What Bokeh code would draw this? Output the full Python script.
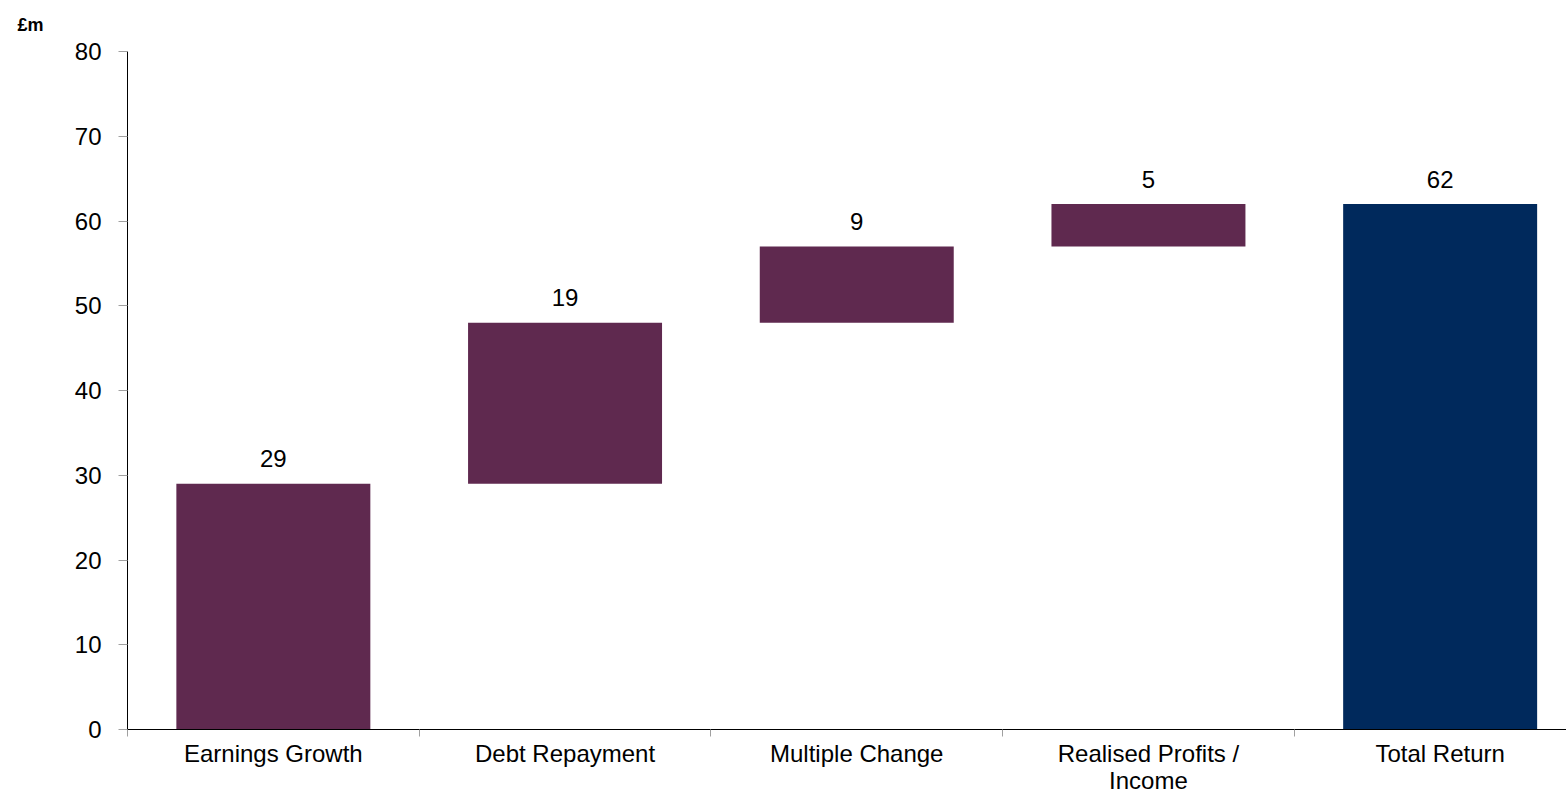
from bokeh.plotting import figure
from bokeh.models import Range1d, FixedTicker, ColumnDataSource
from bokeh.core.properties import value
from bokeh.embed import file_html
from bokeh.resources import INLINE

categories = ["Earnings Growth", "Debt Repayment", "Multiple Change", "Realised Profits /\nIncome", "Total Return"]
values = [29, 19, 9, 5, 62]
is_total = [False, False, False, False, True]
y_ticks = [0, 10, 20, 30, 40, 50, 60, 70, 80]
unit_label = "£m"

PURPLE = "#5F294F"
NAVY = "#00295C"
FONT = "Liberation Sans"

W, H = 1566, 796
left, top_b, bottom_b = 127, 51, 67
cat_px = 291.7
x_end = (W - left) / cat_px
px_per_unit = (H - top_b - bottom_b) / 80.0
label_gap_px = 25

# waterfall bottoms / tops
bottoms, tops = [], []
running = 0
for v, t in zip(values, is_total):
    if t:
        bottoms.append(0)
        tops.append(v)
    else:
        bottoms.append(running)
        tops.append(running + v)
        running += v

xs = [i + 0.5 for i in range(len(categories))]
colors = [NAVY if t else PURPLE for t in is_total]
src = ColumnDataSource(dict(x=xs, bottom=bottoms, top=tops, color=colors,
                            lbl_y=[t + label_gap_px / px_per_unit for t in tops],
                            lbl=[str(v) for v in values]))

p = figure(width=W, height=H, output_backend="svg", toolbar_location=None,
           x_range=Range1d(0, x_end), y_range=Range1d(0, 80),
           min_border_left=left, min_border_right=0,
           min_border_top=top_b, min_border_bottom=bottom_b,
           title=unit_label)
p.outline_line_color = None
p.xgrid.visible = False
p.ygrid.visible = False
p.background_fill_color = "white"
p.border_fill_color = "white"

p.title.align = "left"
p.title.vertical_align = "top"
p.title.offset = 17 - left
p.title.text_font = FONT
p.title.text_font_size = "18px"
p.title.text_font_style = "bold"
p.title.text_color = "black"
p.title.standoff = 29

p.vbar(x="x", bottom="bottom", top="top", width=0.665, color="color",
       line_color=None, source=src)
p.text(x="x", y="lbl_y", text="lbl", source=src, text_align="center",
       text_baseline="alphabetic", text_font_size="24px",
       text_font=value(FONT), text_color="black")

# x axis
p.xaxis.ticker = FixedTicker(ticks=xs, minor_ticks=list(range(len(categories) + 1)))
p.xaxis.major_label_overrides = {x: c for x, c in zip(xs, categories)}
p.xaxis.major_tick_out = 0
p.xaxis.major_tick_in = 0
p.xaxis.minor_tick_out = 7
p.xaxis.minor_tick_in = 0
p.xaxis.minor_tick_line_color = "#A0A0A0"
p.xaxis.axis_line_color = "black"
p.xaxis.major_label_text_font = FONT
p.xaxis.major_label_text_font_size = "24px"
p.xaxis.major_label_text_line_height = 1.0
p.xaxis.major_label_text_color = "black"
p.xaxis.major_label_standoff = 3

# y axis
p.yaxis.ticker = FixedTicker(ticks=y_ticks)
p.yaxis.minor_tick_line_color = None
p.yaxis.major_tick_out = 9
p.yaxis.major_tick_in = 0
p.yaxis.major_tick_line_color = "#A0A0A0"
p.yaxis.axis_line_color = "black"
p.yaxis.major_label_text_font = FONT
p.yaxis.major_label_text_font_size = "24px"
p.yaxis.major_label_text_color = "black"
p.yaxis.major_label_standoff = 17

open("out.html", "w").write(file_html(p, INLINE))
